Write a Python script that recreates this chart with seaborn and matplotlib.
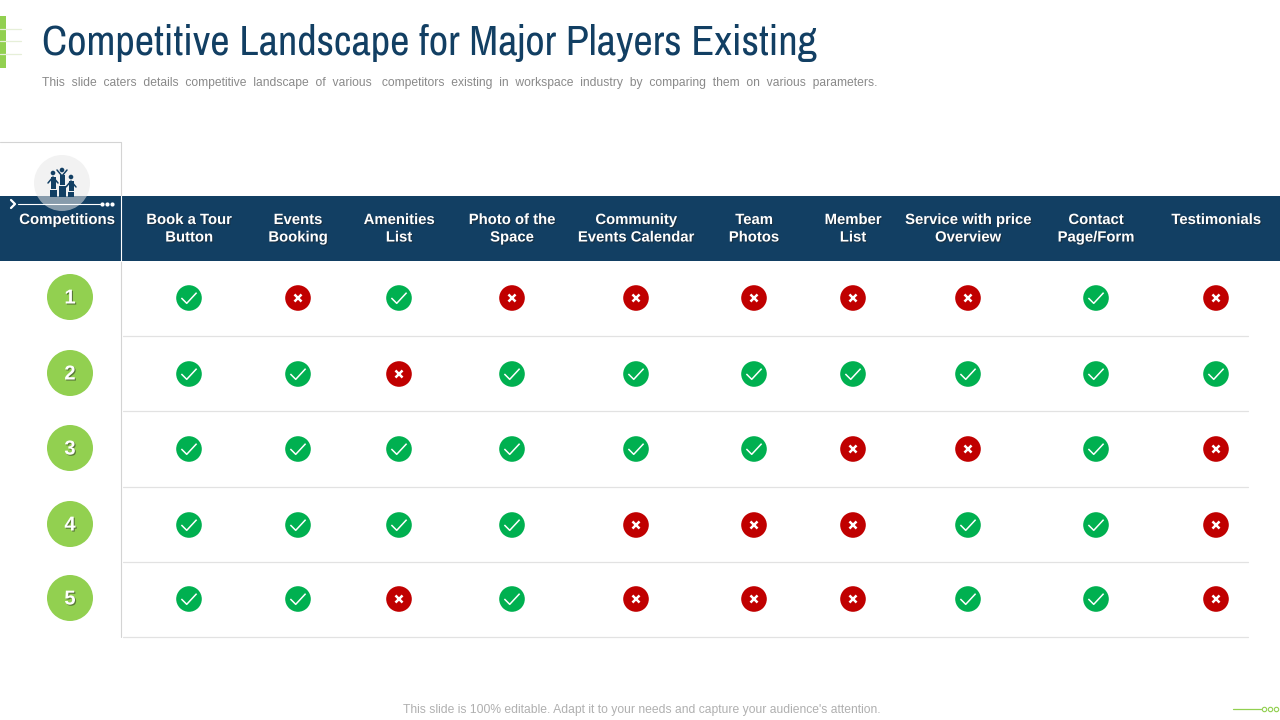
import matplotlib
matplotlib.use("Agg")
import matplotlib.pyplot as plt
import matplotlib.patches as mpatches
import matplotlib.patheffects as pe
from matplotlib.path import Path
import pandas as pd
import seaborn as sns

# ------ dados ------
COLUMNS = ["Book a Tour\nButton", "Events\nBooking", "Amenities\nList", "Photo of the\nSpace",
           "Community\nEvents Calendar", "Team\nPhotos", "Member\nList",
           "Service with price\nOverview", "Contact\nPage/Form", "Testimonials"]
COMPETITORS = ["1", "2", "3", "4", "5"]
COMP_1 = [1, 0, 1, 0, 0, 0, 0, 0, 1, 0]
COMP_2 = [1, 1, 0, 1, 1, 1, 1, 1, 1, 1]
COMP_3 = [1, 1, 1, 1, 1, 1, 0, 0, 1, 0]
COMP_4 = [1, 1, 1, 1, 0, 0, 0, 1, 1, 0]
COMP_5 = [1, 1, 0, 1, 0, 0, 0, 1, 1, 0]

TITLE = "Competitive Landscape for Major Players Existing"
SUBTITLE = ("This  slide  caters  details  competitive  landscape  of  various   competitors  existing  in  "
            "workspace  industry  by  comparing  them  on  various  parameters.")
FOOTER = "This slide is 100% editable. Adapt it to your needs and capture your audience's attention."

# ------ layout (pixels) ------
COL_X = [189, 298, 399, 512, 636, 754, 853, 968, 1096, 1216]
ROW_Y = [298, 374, 449, 525, 599]
RULE_Y = [336, 411, 487, 562, 637]
NAVY = "#123F63"
GREEN = "#92D050"
YES = "#00B050"
NO = "#C00000"

sns.set_theme(style="white")
plt.rcParams["font.family"] = ["Liberation Sans", "DejaVu Sans"]

df = pd.DataFrame([COMP_1, COMP_2, COMP_3, COMP_4, COMP_5], index=COMPETITORS, columns=COLUMNS)
long_df = df.reset_index(names="row").melt(id_vars="row", var_name="col", value_name="ok")
long_df["x"] = long_df["col"].map(dict(zip(COLUMNS, COL_X)))
long_df["y"] = long_df["row"].map(dict(zip(COMPETITORS, ROW_Y)))

fig = plt.figure(figsize=(12.8, 7.2), dpi=100)
ax = fig.add_axes([0, 0, 1, 1])
ax.set_xlim(0, 1280)
ax.set_ylim(720, 0)
ax.axis("off")

# faixa do cabecalho e linhas da tabela
ax.add_patch(mpatches.Rectangle((0, 196), 1280, 65, color=NAVY, lw=0, zorder=1))
for y in RULE_Y:
    ax.plot([123, 1248], [y, y], color="#E2E2E2", lw=0.9, zorder=1)
ax.plot([0, 121, 121], [142, 142, 196], color="#D4D4D4", lw=0.8, zorder=1)
ax.plot([121, 121], [196, 261], color="#FFFFFF", lw=0.8, zorder=2)
ax.plot([121, 121], [261, 637], color="#D4D4D4", lw=0.8, zorder=1)

# marcas de sim/nao
sns.scatterplot(data=long_df, x="x", y="y", hue="ok", palette={1: YES, 0: NO}, s=340,
                linewidth=0, legend=False, ax=ax, zorder=3)
check = Path([(-1, 0.0), (-0.3, -0.7), (1, 0.7)], [Path.MOVETO, Path.LINETO, Path.LINETO])
cross = Path([(-1, -1), (1, 1), (-1, 1), (1, -1)], [Path.MOVETO, Path.LINETO, Path.MOVETO, Path.LINETO])
d = long_df[long_df["ok"] == 1]
ax.scatter(d["x"], d["y"], marker=check, s=120, facecolors="none", edgecolors="white",
           linewidths=1.1, zorder=4)
d = long_df[long_df["ok"] == 0]
ax.scatter(d["x"], d["y"], marker=cross, s=26, facecolors="none", edgecolors="white",
           linewidths=1.8, zorder=4)

# circulos numerados
shadow = [pe.withSimplePatchShadow(offset=(0.8, -0.8), shadow_rgbFace="#222222", alpha=0.5)]
for name, y in zip(COMPETITORS, ROW_Y):
    ax.add_patch(mpatches.Circle((70, y - 1), 23, color=GREEN, ec="none", zorder=3))
    ax.text(70, y, name, color="white", fontsize=14.5, fontweight="bold", ha="center", va="center",
            zorder=4, path_effects=shadow)

# textos do cabecalho
ax.text(67, 220, "Competitions", color="white", fontsize=10.8, fontweight="bold", ha="center", va="center",
        zorder=6, path_effects=shadow)
for label, x in zip(COLUMNS, COL_X):
    ax.text(x, 213, label, color="white", fontsize=10.7, fontweight="bold", ha="center", va="top",
            linespacing=1.32, zorder=6, path_effects=shadow)

# icone do podio
ax.add_patch(mpatches.Circle((62, 183), 28, color="#E8E8E8", alpha=0.55, ec="none", zorder=4))
for x0, top, w in [(50, 190, 7), (59, 186, 7), (68, 192, 6)]:
    ax.add_patch(mpatches.Rectangle((x0, top), w, 196 - top + 1, color=NAVY, lw=0, zorder=5))
for cx, head, sh, ft in [(53, 173, 177, 189), (62, 170, 175, 185), (71, 177, 181, 191)]:
    ax.add_patch(mpatches.Circle((cx, head), 2.3, color=NAVY, ec="none", zorder=5))
    ax.add_patch(mpatches.Rectangle((cx - 2.5, sh), 5, ft - sh, color=NAVY, lw=0, zorder=5))
    ax.plot([cx - 5, cx, cx + 5], [sh + 6, sh, sh + 6] if cx != 62 else [sh - 5, sh + 1, sh - 5],
            color=NAVY, lw=1.1, zorder=5)

# adorno sobre o cabecalho
ax.plot([18, 100], [204, 204], color="white", lw=0.8, zorder=6)
ax.plot([11, 15, 11], [200, 204, 208], color="white", lw=1.6, zorder=6)
ax.scatter([102, 107, 112], [204, 204, 204], s=9, color="white", linewidths=0, zorder=6)

# adorno do canto superior
ax.add_patch(mpatches.Rectangle((0, 16), 6, 52, color=GREEN, lw=0, zorder=2))
for y in [29, 41, 54]:
    ax.plot([0, 21], [y, y], color="#E6EFD8", lw=0.9, zorder=3)

# titulo e rodape
ax.text(42, 43, TITLE, color=NAVY, fontsize=30.5, family=["Archivo Narrow", "Liberation Sans"],
        ha="left", va="center")
ax.text(42, 83, SUBTITLE, color="#8A8A8A", fontsize=8.77, ha="left", va="center")
ax.text(403, 710, FOOTER, color="#B0B0B0", fontsize=8.73, ha="left", va="center")
ax.plot([1233, 1261], [709, 709], color=GREEN, lw=0.9, zorder=2)
ax.scatter([1263.5, 1269.5, 1275.5], [709, 709, 709], s=10, facecolors="white", edgecolors=GREEN,
           linewidths=0.8, zorder=3)

fig.savefig("out.png", dpi=100)
